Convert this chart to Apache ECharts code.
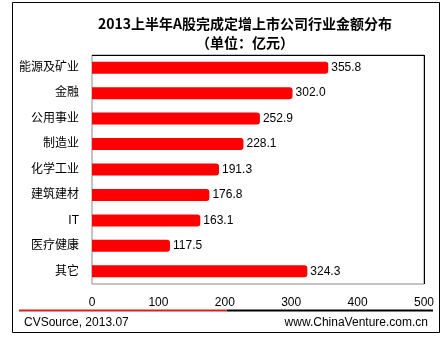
<!DOCTYPE html>
<html>
<head>
<meta charset="utf-8">
<script src="https://cdn.jsdelivr.net/npm/echarts@6/dist/echarts.min.js"></script>
<style>html,body{margin:0;padding:0;background:#fff;}#c{width:447px;height:337px;}</style>
</head>
<body>
<div id="c"></div>
<script>
var categories = ['能源及矿业', '金融', '公用事业', '制造业', '化学工业', '建筑建材', 'IT', '医疗健康', '其它'];
var values = [355.8, 302.0, 252.9, 228.1, 191.3, 176.8, 163.1, 117.5, 324.3];
var xTicks = [0, 100, 200, 300, 400, 500];

var chart = echarts.init(document.getElementById('c'), null, {renderer: 'canvas'});
var font = 'Arial, "Liberation Sans", "Noto Sans CJK SC", sans-serif';
chart.setOption({
  backgroundColor: '#fff',
  animation: false,
  title: {
    text: '2013上半年A股完成定增上市公司行业金额分布',
    subtext: '（单位：亿元）',
    left: 240, textAlign: 'center', top: 12, itemGap: 5,
    textStyle: {fontSize: 14, fontWeight: 'bold', color: '#000', fontFamily: '"Noto Sans CJK SC", sans-serif'},
    subtextStyle: {fontSize: 14, fontWeight: 'bold', color: '#000', fontFamily: '"Noto Sans CJK SC", sans-serif'}
  },
  grid: {left: 92, right: 23, top: 55, bottom: 53, show: true, borderColor: '#8a8a8a', borderWidth: 1, backgroundColor: '#fff'},
  xAxis: {
    type: 'value', min: xTicks[0], max: xTicks[xTicks.length - 1], interval: 100,
    axisLine: {show: false}, axisTick: {show: false}, splitLine: {show: false},
    axisLabel: {margin: 13, fontSize: 12, color: '#000', fontFamily: font}
  },
  yAxis: {
    type: 'category', data: categories, inverse: true,
    axisLine: {show: false}, axisTick: {show: false},
    axisLabel: {margin: 13, fontSize: 12, color: '#000', fontFamily: font}
  },
  series: [{
    type: 'bar', data: values, barWidth: 12,
    itemStyle: {color: '#ff0000', borderRadius: [0, 3, 3, 0]},
    label: {show: true, position: 'right', distance: 3, fontSize: 12, color: '#000', fontFamily: font,
      formatter: function (p) { return p.value.toFixed(1); }}
  }],
  graphic: [
    {type: 'rect', shape: {x: 12.5, y: 2.5, width: 427, height: 330}, style: {fill: 'none', stroke: '#000', lineWidth: 1}, z: 100},
    {type: 'line', shape: {x1: 92, y1: 55.5, x2: 424, y2: 55.5}, style: {stroke: '#000', lineWidth: 1}, z: 100},
    {type: 'line', shape: {x1: 424.5, y1: 55, x2: 424.5, y2: 284}, style: {stroke: '#000', lineWidth: 1}, z: 100},
    {type: 'line', shape: {x1: 19, y1: 310.5, x2: 227, y2: 310.5}, style: {stroke: '#d42020', lineWidth: 2}, z: 100},
    {type: 'line', shape: {x1: 227, y1: 310.5, x2: 433, y2: 310.5}, style: {stroke: '#000', lineWidth: 2}, z: 100},
    {type: 'text', x: 24, y: 323, style: {text: 'CVSource, 2013.07', fontSize: 12, fill: '#000', font: '12px Arial, "Liberation Sans", sans-serif', textVerticalAlign: 'middle'}, z: 100},
    {type: 'text', x: 428, y: 323, style: {text: 'www.ChinaVenture.com.cn', fontSize: 12, fill: '#000', font: '12px Arial, "Liberation Sans", sans-serif', textAlign: 'right', textVerticalAlign: 'middle'}, z: 100}
  ]
});
</script>
</body>
</html>
